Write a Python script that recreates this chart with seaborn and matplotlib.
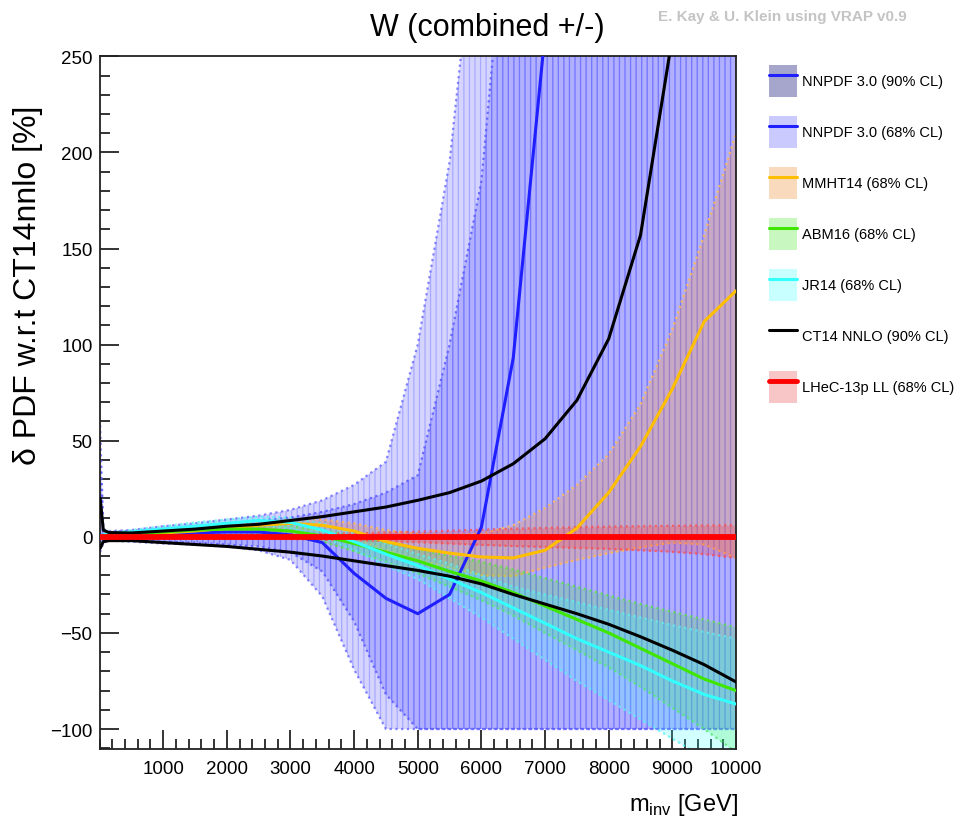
import matplotlib
matplotlib.use("Agg")
import matplotlib.pyplot as plt
from matplotlib.patches import Patch
from matplotlib.lines import Line2D
from matplotlib.ticker import MultipleLocator
import seaborn as sns

sns.set_style("ticks")
plt.rcParams['font.family'] = ['Liberation Sans', 'DejaVu Sans']
plt.rcParams['text.color'] = 'black'
plt.rcParams['xtick.color'] = 'black'
plt.rcParams['ytick.color'] = 'black'
plt.rcParams['hatch.linewidth'] = 0.9

# invariant mass grid [GeV]
m_inv = [10, 60, 150, 500, 1000, 1500, 2000, 2500, 3000, 3500, 4000, 4500,
         5000, 5500, 6000, 6500, 7000, 7500, 8000, 8500, 9000, 9500, 10000]

# relative PDF uncertainty w.r.t. CT14nnlo [%]
nnpdf_central = [1, 0.5, 0.5, 1, 1.5, 2, 2.5, 2.5, 1, -3, -19, -32,
                 -40, -30, 5, 93, 262, 500, 800, 1100, 1400, 1800, 2200]
nnpdf90_hi = [58, 4, 3, 3.5, 5.5, 7, 9, 11, 14, 19, 27, 39,
              100, 195, 350, 550, 800, 1100, 1400, 1800, 2200, 2600, 3000]
nnpdf90_lo = [-8, -3, -2, -2.5, -3.5, -4, -5, -7, -12, -31, -69, -100,
              -100, -100, -100, -100, -100, -100, -100, -100, -100, -100, -100]
nnpdf68_hi = [40, 3, 2.5, 3, 4, 5.5, 7, 8.5, 10, 13, 17, 23,
              32, 100, 185, 365, 600, 900, 1200, 1500, 1800, 2200, 2600]
nnpdf68_lo = [-6, -2, -1.5, -2, -2.5, -3, -4, -5, -8, -18, -44, -82,
              -100, -100, -100, -100, -100, -100, -100, -100, -100, -100, -100]

mmht_central = [0, 0.3, 0.5, 1, 2, 3, 4.5, 6, 7, 6, 3, -2.5,
                -6, -8.5, -10.5, -11, -7, 4.5, 23, 47, 77, 112, 128]
mmht_hi = [0.5, 0.8, 1, 1.5, 2.5, 3.5, 5.5, 7.5, 9, 9, 7, 3.5,
           1.5, 1, 1.5, 6, 15, 27, 43, 69, 108, 157, 210]
mmht_lo = [-0.5, -0.3, 0, 0.5, 1.5, 2.5, 3.5, 4.5, 5, 3, -1, -7,
           -12, -16, -20, -20.5, -16, -12, -8.5, -5.5, -3, -4, -11]

abm_central = [0, 0.5, 0.8, 1.5, 2.5, 3.5, 4, 4, 3, 0.5, -3.5, -8,
               -12.5, -18, -23, -29, -36, -43, -50, -58, -66, -74, -80]
abm_hi = [0.5, 1, 1.3, 2, 3.5, 4.5, 5.5, 6, 5.5, 3.5, 0.5, -3,
          -6.5, -10, -13, -17, -21.5, -26, -30.5, -35, -39, -43, -47]
abm_lo = [-0.5, 0, 0.3, 1, 1.5, 2.5, 2.5, 2, 0.5, -2.5, -7.5, -13,
          -19, -26, -33, -41, -50, -59, -68, -78, -89, -100, -112]

jr_central = [0.5, 1, 1.5, 2.5, 4, 5.5, 7, 8.5, 7.5, 3.5, -2.5, -9,
              -15, -22, -29, -37, -45, -53, -60, -67, -75, -82, -87]
jr_hi = [1, 1.5, 2, 3.5, 5.5, 7.5, 9, 10.5, 10, 7, 2, -3.5,
         -9, -14, -20, -26, -30, -34, -38, -42, -46, -49.5, -53]
jr_lo = [0, 0.5, 1, 1.5, 2.5, 3.5, 5, 6, 4.5, 0, -7, -15,
         -22, -32, -42, -53, -64, -75, -85, -95, -105, -115, -125]

ct14_hi = [20, 3.5, 2.2, 2, 3, 4, 5.5, 6.5, 8.5, 10.5, 13, 15.5,
           19, 23, 29, 38, 51, 71, 103, 157, 260, 400, 600]
ct14_lo = [-6, -2.5, -2, -2, -3, -4, -5, -6.5, -8, -10, -12.5, -15,
           -17.5, -20.5, -24.5, -30, -35, -40, -45.5, -52, -59, -66.5, -75.5]

lhec_central = [0] * len(m_inv)
lhec_hi = [0.5, 0.5, 0.5, 0.5, 0.5, 0.7, 0.8, 1, 1.2, 1.5, 1.8, 2.2,
           2.7, 3.2, 3.7, 4.2, 4.6, 5, 5.3, 5.5, 5.7, 5.9, 6]
lhec_lo = [-0.5, -0.5, -0.5, -0.5, -0.5, -0.7, -0.8, -1, -1.2, -1.5, -1.8, -2.2,
           -2.8, -3.5, -4.2, -4.8, -5.3, -5.8, -6.3, -7, -7.8, -9, -11]

labels = ["NNPDF 3.0 (90% CL)", "NNPDF 3.0 (68% CL)", "MMHT14 (68% CL)",
          "ABM16 (68% CL)", "JR14 (68% CL)", "CT14 NNLO (90% CL)",
          "LHeC-13p LL (68% CL)"]

C_BLUE = '#1f1fff'
C_ORANGE = '#ffbf00'
C_GREEN = '#3fe600'
C_CYAN = '#33ffff'
C_RED = '#ff0000'

W, H = 973, 828
fig = plt.figure(figsize=(W / 100, H / 100), dpi=100)
ax = fig.add_axes([99.5 / W, 1 - 750 / H, (736 - 99.5) / W, (750 - 57.3) / H])
ax.set_facecolor('white')

dot = (0, (1, 1.6))


def band(lo, hi, face, edge, alpha, z, hatch=None, hatch_col=None):
    ax.fill_between(m_inv, lo, hi, facecolor=face, alpha=alpha, linewidth=0, zorder=z)
    if hatch:
        ax.fill_between(m_inv, lo, hi, facecolor='none', edgecolor=hatch_col,
                        linewidth=0, hatch=hatch, zorder=z)
    for edge_vals in (lo, hi):
        ax.plot(m_inv, edge_vals, color=edge, linestyle=dot, linewidth=1.6, zorder=z + 0.1)


band(nnpdf90_lo, nnpdf90_hi, (0, 0, 1), (0.4, 0.4, 1, 0.8), 0.17, 1,
     hatch='|||', hatch_col=(0.35, 0.35, 1, 0.35))
band(nnpdf68_lo, nnpdf68_hi, (0, 0, 1), (0.35, 0.35, 1, 0.85), 0.17, 1.2,
     hatch='|||', hatch_col=(0.3, 0.3, 1, 0.35))
band(mmht_lo, mmht_hi, (1.0, 0.6, 0.25), (1.0, 0.72, 0.35, 0.9), 0.3, 1.4)
band(abm_lo, abm_hi, (0.2, 0.9, 0.1), (0.35, 0.9, 0.25, 0.8), 0.22, 1.6)
band(jr_lo, jr_hi, (0.2, 1.0, 1.0), (0.35, 0.95, 0.95, 0.8), 0.22, 1.8)
band(lhec_lo, lhec_hi, (1.0, 0.2, 0.2), (1.0, 0.3, 0.3, 0.8), 0.25, 2.0)

line_kw = dict(ax=ax, legend=False, estimator=None, sort=False)
sns.lineplot(x=m_inv, y=nnpdf_central, color=C_BLUE, linewidth=2.2, zorder=3, **line_kw)
sns.lineplot(x=m_inv, y=mmht_central, color=C_ORANGE, linewidth=2.2, zorder=3.1, **line_kw)
sns.lineplot(x=m_inv, y=abm_central, color=C_GREEN, linewidth=2.2, zorder=3.2, **line_kw)
sns.lineplot(x=m_inv, y=jr_central, color=C_CYAN, linewidth=2.2, zorder=3.3, **line_kw)
sns.lineplot(x=m_inv, y=ct14_hi, color='black', linewidth=2.2, zorder=3.4, **line_kw)
sns.lineplot(x=m_inv, y=ct14_lo, color='black', linewidth=2.2, zorder=3.4, **line_kw)
sns.lineplot(x=m_inv, y=lhec_central, color=C_RED, linewidth=4.2, zorder=3.6, **line_kw)

ax.set_xlim(0, 10000)
ax.set_ylim(-110.4, 250)
ax.set_xticks(list(range(1000, 10001, 1000)))
ax.xaxis.set_minor_locator(MultipleLocator(200))
ax.yaxis.set_major_locator(MultipleLocator(50))
ax.yaxis.set_minor_locator(MultipleLocator(10))
ax.tick_params(which='both', direction='in', top=False, right=False,
               width=1.2, color='#111111', labelsize=13.5, labelcolor='black')
ax.tick_params(which='major', length=14)
ax.tick_params(which='minor', length=7)
ax.tick_params(axis='x', pad=8)
ax.tick_params(axis='y', pad=5)
for sp in ax.spines.values():
    sp.set_linewidth(1.3)
    sp.set_color('#222222')
    sp.set_visible(True)
ax.set_xlabel('')
ax.set_ylabel('')

fig.text(487 / W, 1 - 28 / H, "W (combined +/-)", ha='center', va='center', fontsize=22)
fig.text(782 / W, 1 - 17 / H, "E. Kay & U. Klein using VRAP v0.9", ha='center', va='center',
         fontsize=11, color='#c4c4c4', fontweight='bold')
fig.text(28 / W, 1 - 285 / H, "δ PDF w.r.t CT14nnlo [%]", rotation=90, ha='center', va='center',
         fontsize=23)
fig.text(738 / W, 1 - 805 / H, r"m$_{\mathregular{inv}}$ [GeV]", ha='right', va='center', fontsize=17)

handles = [
    (Patch(facecolor='#a6a6cc', edgecolor='none'), Line2D([], [], color=C_BLUE, lw=2.2)),
    (Patch(facecolor='#cacaff', edgecolor='none'), Line2D([], [], color=C_BLUE, lw=2.2)),
    (Patch(facecolor='#fadabc', edgecolor='none'), Line2D([], [], color=C_ORANGE, lw=2.2)),
    (Patch(facecolor='#c8f8bf', edgecolor='none'), Line2D([], [], color=C_GREEN, lw=2.2)),
    (Patch(facecolor='#c8ffff', edgecolor='none'), Line2D([], [], color=C_CYAN, lw=2.2)),
    Line2D([], [], color='black', lw=2.2),
    (Patch(facecolor='#f8c6c6', edgecolor='none'), Line2D([], [], color=C_RED, lw=3.5)),
]
fs = 10.5
fpx = fs * 100 / 72
ax.legend(handles, labels, loc='upper left', bbox_to_anchor=(769 / W, 1 - 66 / H),
          bbox_transform=fig.transFigure, frameon=False, borderpad=0, borderaxespad=0,
          fontsize=fs, handlelength=28 / fpx, handleheight=43 / fpx, handletextpad=5 / fpx,
          labelspacing=19.5 / fpx)

fig.savefig("out.png", dpi=100)
